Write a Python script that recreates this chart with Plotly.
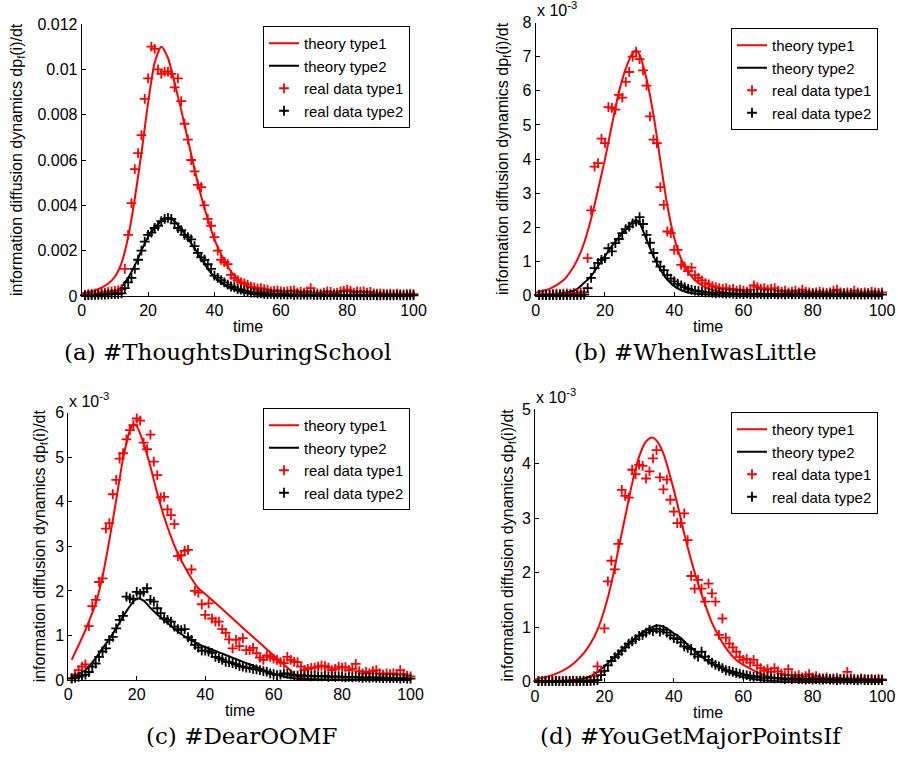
import plotly.graph_objects as go

SCALE = 1e-3
t_data = list(range(1, 101))

# ---------------- Panel (a) #ThoughtsDuringSchool (values in 1e-3) ----------------
a_real1 = [0.05, 0.08, 0.1, 0.1, 0.12, 0.15, 0.15, 0.18, 0.2, 0.22, 0.25, 0.3,
           1.2, 2.7, 4.1, 5.6, 6.3, 7.1, 8.7, 9.6, 11.0, 10.9, 10.0, 9.8, 9.9,
           9.9, 9.8, 9.2, 9.6, 8.6, 7.6, 6.9, 6.0, 5.5, 4.9, 4.8, 4.0, 3.4, 3.1,
           2.6, 2.0, 1.6, 1.5, 1.4, 0.93, 0.8, 0.7, 0.6, 0.56, 0.5, 0.4, 0.38,
           0.34, 0.35, 0.3, 0.28, 0.2, 0.22, 0.25, 0.2, 0.18, 0.2, 0.22, 0.25,
           0.15, 0.18, 0.15, 0.2, 0.35, 0.15, 0.12, 0.1, 0.15, 0.2, 0.18, 0.12,
           0.15, 0.2, 0.22, 0.28, 0.22, 0.15, 0.2, 0.18, 0.2, 0.15, 0.18, 0.12,
           0.1, 0.12, 0.1, 0.08, 0.1, 0.08, 0.1, 0.08, 0.07, 0.08, 0.1, 0.08]
a_real2 = [0.03, 0.04, 0.04, 0.05, 0.05, 0.06, 0.06, 0.07, 0.08, 0.08, 0.1, 0.12,
           0.35, 0.6, 0.8, 1.2, 1.6, 2.0, 2.4, 2.7, 2.8, 3.0, 3.1, 3.3, 3.4,
           3.45, 3.4, 3.2, 3.0, 2.9, 2.7, 2.6, 2.5, 2.2, 1.9, 1.7, 1.6, 1.4, 1.2,
           0.9, 0.8, 0.7, 0.6, 0.5, 0.42, 0.38, 0.3, 0.28, 0.22, 0.2, 0.15, 0.15,
           0.12, 0.12, 0.1, 0.08, 0.09, 0.07, 0.08, 0.06, 0.07, 0.06, 0.07, 0.05,
           0.06, 0.05, 0.06, 0.05, 0.06, 0.05, 0.04, 0.05, 0.04, 0.05, 0.04, 0.05,
           0.04, 0.04, 0.05, 0.04, 0.04, 0.03, 0.04, 0.04, 0.03, 0.04, 0.03, 0.04,
           0.03, 0.03, 0.04, 0.03, 0.03, 0.03, 0.04, 0.03, 0.03, 0.03, 0.03, 0.03]
a_theo_t1 = [0, 2, 4, 6, 8, 10, 12, 14, 16, 18, 20, 22, 24, 26, 28, 30, 32, 34, 36,
             38, 40, 42, 44, 46, 48, 52, 56, 60, 70, 80, 100]
a_theo1 = [0.12, 0.17, 0.25, 0.37, 0.55, 0.85, 1.45, 2.6, 4.3, 6.3, 8.5, 10.3,
           11.0, 10.5, 9.4, 8.2, 6.9, 5.6, 4.4, 3.4, 2.5, 1.85, 1.3, 0.9, 0.6, 0.3,
           0.15, 0.08, 0.02, 0.01, 0.0]
a_theo_t2 = [0, 6, 10, 12, 14, 16, 18, 20, 22, 24, 26, 28, 30, 32, 34, 36, 38, 40,
             42, 44, 46, 48, 52, 56, 60, 100]
a_theo2 = [0.02, 0.05, 0.15, 0.4, 0.8, 1.35, 2.0, 2.6, 3.0, 3.3, 3.45, 3.3, 2.95,
           2.55, 2.1, 1.65, 1.2, 0.85, 0.6, 0.4, 0.28, 0.18, 0.08, 0.04, 0.02, 0.0]

# ---------------- Panel (b) #WhenIwasLittle ----------------
b_real1 = [0.03, 0.04, 0.05, 0.04, 0.05, 0.06, 0.05, 0.06, 0.07, 0.06, 0.08, 0.07,
           0.1, 0.1, 1.1, 2.5, 3.78, 3.88, 4.6, 4.47, 5.52, 5.5, 5.45, 5.88, 5.8,
           6.26, 6.55, 7.0, 7.15, 6.93, 6.6, 6.15, 5.25, 4.57, 4.47, 3.18, 2.66,
           1.88, 1.83, 1.34, 1.34, 0.9, 0.85, 0.72, 0.82, 0.6, 0.52, 0.45, 0.37,
           0.33, 0.28, 0.25, 0.22, 0.2, 0.22, 0.18, 0.2, 0.15, 0.18, 0.15, 0.12,
           0.18, 0.3, 0.25, 0.2, 0.22, 0.18, 0.2, 0.22, 0.15, 0.12, 0.15, 0.1,
           0.12, 0.15, 0.1, 0.18, 0.12, 0.1, 0.08, 0.1, 0.12, 0.1, 0.08, 0.1, 0.15,
           0.18, 0.1, 0.08, 0.1, 0.08, 0.15, 0.1, 0.08, 0.1, 0.08, 0.12, 0.1, 0.08,
           0.1]
b_real2 = [0.02, 0.02, 0.02, 0.02, 0.02, 0.02, 0.02, 0.02, 0.02, 0.02, 0.02, 0.02,
           0.02, 0.03, 0.22, 0.52, 0.81, 0.96, 1.05, 1.1, 1.39, 1.3, 1.54, 1.66,
           1.83, 1.95, 2.02, 2.12, 2.17, 2.3, 2.1, 1.78, 1.55, 1.25, 1.0, 0.85,
           0.75, 0.6, 0.5, 0.42, 0.35, 0.3, 0.25, 0.2, 0.17, 0.15, 0.13, 0.12,
           0.1, 0.1, 0.08, 0.07, 0.08, 0.07, 0.06, 0.07, 0.06, 0.05, 0.06, 0.05,
           0.06, 0.05, 0.05, 0.06, 0.05, 0.05, 0.04, 0.05, 0.05, 0.04, 0.05, 0.04,
           0.05, 0.04, 0.04, 0.05, 0.04, 0.04, 0.04, 0.05, 0.04, 0.04, 0.04, 0.03,
           0.04, 0.04, 0.03, 0.04, 0.04, 0.03, 0.04, 0.03, 0.04, 0.03, 0.03, 0.04,
           0.03, 0.03, 0.03, 0.03]
b_theo_t1 = [0, 4, 8, 10, 12, 14, 16, 18, 20, 22, 24, 26, 28, 29, 30, 32, 34, 36,
             38, 40, 42, 44, 46, 48, 50, 55, 60, 70, 100]
b_theo1 = [0.09, 0.2, 0.45, 0.7, 1.05, 1.55, 2.25, 3.1, 4.0, 5.0, 5.95, 6.65, 7.1,
           7.18, 7.05, 6.35, 5.3, 3.95, 2.65, 1.7, 1.08, 0.7, 0.45, 0.3, 0.2, 0.09,
           0.04, 0.01, 0.0]
b_theo_t2 = [0, 5, 10, 12, 14, 16, 18, 20, 22, 24, 26, 28, 29, 30, 32, 34, 36, 38,
             40, 42, 45, 50, 60, 100]
b_theo2 = [0.02, 0.05, 0.12, 0.2, 0.38, 0.57, 0.87, 1.16, 1.45, 1.7, 1.95, 2.15,
           2.22, 2.12, 1.65, 1.16, 0.77, 0.47, 0.28, 0.16, 0.08, 0.03, 0.01, 0.0]

# ---------------- Panel (c) #DearOOMF ----------------
c_real1 = [0.04, 0.12, 0.22, 0.3, 0.35, 1.21, 1.66, 1.8, 2.2, 2.28, 3.4, 3.52,
           4.17, 4.49, 4.97, 5.09, 5.4, 5.61, 5.72, 5.87, 5.82, 5.33, 5.18, 5.51,
           4.9, 4.6, 4.1, 4.11, 3.83, 3.7, 3.5, 2.78, 2.8, 2.9, 2.92, 2.48, 2.0,
           1.96, 1.7, 1.46, 1.72, 1.38, 1.31, 1.31, 1.14, 1.06, 0.91, 0.71, 0.9,
           0.76, 0.94, 0.67, 0.67, 0.72, 0.6, 0.5, 0.45, 0.55, 0.52, 0.48, 0.45,
           0.4, 0.38, 0.52, 0.45, 0.41, 0.4, 0.3, 0.22, 0.25, 0.27, 0.28, 0.3,
           0.32, 0.31, 0.28, 0.22, 0.25, 0.3, 0.28, 0.29, 0.22, 0.25, 0.36, 0.2,
           0.15, 0.18, 0.15, 0.2, 0.22, 0.15, 0.12, 0.15, 0.13, 0.15, 0.12, 0.22,
           0.13, 0.1, 0.08]
c_real2 = [0.03, 0.05, 0.07, 0.1, 0.12, 0.18, 0.3, 0.37, 0.52, 0.64, 0.71, 0.9,
           0.97, 1.16, 1.35, 1.44, 1.87, 1.83, 1.81, 1.98, 1.94, 1.98, 2.06, 1.8,
           1.76, 1.61, 1.5, 1.38, 1.35, 1.31, 1.2, 1.14, 1.12, 1.14, 0.96, 0.9,
           0.79, 0.73, 0.66, 0.66, 0.64, 0.61, 0.52, 0.49, 0.45, 0.41, 0.4, 0.38,
           0.35, 0.31, 0.3, 0.28, 0.27, 0.25, 0.24, 0.22, 0.2, 0.19, 0.15, 0.13,
           0.11, 0.12, 0.15, 0.14, 0.12, 0.1, 0.1, 0.11, 0.09, 0.1, 0.08, 0.09,
           0.08, 0.08, 0.09, 0.07, 0.08, 0.07, 0.08, 0.07, 0.06, 0.07, 0.06, 0.07,
           0.06, 0.05, 0.06, 0.05, 0.06, 0.05, 0.05, 0.04, 0.05, 0.04, 0.04, 0.04,
           0.03, 0.04, 0.03, 0.03]
c_theo_t1 = [1, 3, 5, 8, 10, 12, 14, 16, 18, 19, 20, 22, 24, 26, 28, 30, 32, 34,
             36, 38, 40, 44, 48, 52, 56, 60, 64, 67, 70, 80, 100]
c_theo1 = [0.45, 0.78, 1.12, 1.72, 2.32, 3.14, 4.04, 4.97, 5.6, 5.74, 5.7, 5.31,
           4.79, 4.19, 3.66, 3.22, 2.84, 2.54, 2.28, 2.06, 1.93, 1.66, 1.38, 1.1,
           0.83, 0.55, 0.28, 0.08, 0.02, 0.005, 0.0]
c_theo_t2 = [1, 3, 5, 8, 10, 12, 14, 16, 18, 20, 22, 24, 26, 28, 30, 32, 34, 36,
             38, 40, 44, 48, 52, 56, 60, 64, 68, 80, 100]
c_theo2 = [0.07, 0.14, 0.22, 0.49, 0.71, 0.92, 1.16, 1.42, 1.66, 1.83, 1.78,
           1.62, 1.47, 1.34, 1.21, 1.09, 0.98, 0.89, 0.81, 0.74, 0.62, 0.5, 0.38,
           0.26, 0.14, 0.06, 0.02, 0.005, 0.0]

# ---------------- Panel (d) #YouGetMajorPointsIf ----------------
d_real1 = [0.01, 0.01, 0.02, 0.01, 0.01, 0.02, 0.01, 0.01, 0.02, 0.01, 0.02, 0.01,
           0.02, 0.02, 0.02, 0.03, 0.1, 0.28, 0.18, 0.98, 1.84, 2.22, 2.06, 2.53,
           3.52, 3.41, 3.38, 3.89, 3.81, 3.98, 3.96, 3.73, 3.86, 4.1, 4.25, 3.75,
           3.53, 3.71, 3.34, 3.12, 2.91, 2.91, 3.09, 2.6, 1.94, 1.71, 1.87, 1.71,
           1.47, 1.8, 1.62, 1.47, 0.86, 1.16, 0.81, 0.7, 0.63, 0.55, 0.45, 0.4,
           0.42, 0.35, 0.4, 0.3, 0.25, 0.2, 0.23, 0.18, 0.25, 0.19, 0.15, 0.12,
           0.23, 0.12, 0.1, 0.12, 0.08, 0.1, 0.14, 0.08, 0.1, 0.07, 0.06, 0.08,
           0.05, 0.06, 0.07, 0.05, 0.06, 0.18, 0.06, 0.05, 0.04, 0.06, 0.05, 0.04,
           0.05, 0.04, 0.05, 0.04]
d_real2 = [0.01, 0.01, 0.01, 0.01, 0.01, 0.01, 0.01, 0.01, 0.01, 0.01, 0.01, 0.01,
           0.01, 0.01, 0.01, 0.01, 0.02, 0.03, 0.12, 0.2, 0.3, 0.38, 0.45, 0.5,
           0.57, 0.63, 0.7, 0.74, 0.78, 0.84, 0.86, 0.9, 0.95, 0.93, 0.97, 0.92,
           0.95, 0.9, 0.85, 0.8, 0.78, 0.72, 0.65, 0.62, 0.6, 0.5, 0.46, 0.55,
           0.46, 0.4, 0.35, 0.31, 0.28, 0.25, 0.21, 0.2, 0.18, 0.16, 0.15, 0.13,
           0.12, 0.1, 0.09, 0.1, 0.08, 0.07, 0.08, 0.07, 0.06, 0.07, 0.06, 0.05,
           0.06, 0.05, 0.06, 0.05, 0.05, 0.04, 0.05, 0.04, 0.05, 0.04, 0.04, 0.05,
           0.04, 0.04, 0.03, 0.04, 0.04, 0.03, 0.04, 0.03, 0.03, 0.04, 0.03, 0.03,
           0.03, 0.03, 0.03, 0.03]
d_theo_t1 = [0, 5, 10, 14, 16, 18, 20, 22, 24, 26, 28, 30, 32, 33.5, 35, 37, 39,
             41, 43, 45, 47, 49, 51, 53, 55, 58, 62, 66, 70, 75, 80, 100]
d_theo1 = [0.04, 0.12, 0.28, 0.52, 0.7, 0.95, 1.32, 1.8, 2.42, 3.03, 3.64, 4.13,
           4.41, 4.48, 4.43, 4.19, 3.76, 3.27, 2.72, 2.23, 1.8, 1.42, 1.08, 0.83,
           0.62, 0.4, 0.24, 0.12, 0.06, 0.03, 0.01, 0.0]
d_theo_t2 = [0, 10, 14, 16, 18, 20, 22, 24, 26, 28, 30, 32, 34, 35.5, 37, 38, 40,
             42, 44, 46, 48, 50, 52, 55, 58, 61, 65, 70, 100]
d_theo2 = [0.005, 0.02, 0.06, 0.1, 0.18, 0.28, 0.4, 0.52, 0.64, 0.75, 0.86, 0.95,
           1.01, 1.03, 1.01, 0.98, 0.89, 0.8, 0.68, 0.57, 0.46, 0.37, 0.3, 0.2,
           0.12, 0.07, 0.03, 0.01, 0.0]

captions = ["(a) #ThoughtsDuringSchool", "(b) #WhenIwasLittle",
            "(c) #DearOOMF", "(d) #YouGetMajorPointsIf"]
legend_names = ["theory type1", "theory type2", "real data type1", "real data type2"]
x_ticks = [0, 20, 40, 60, 80, 100]
a_yticks = [0, 2, 4, 6, 8, 10, 12]
a_yticktext = ["0", "0.002", "0.004", "0.006", "0.008", "0.01", "0.012"]
b_yticks = [0, 1, 2, 3, 4, 5, 6, 7, 8]
c_yticks = [0, 1, 2, 3, 4, 5, 6]
d_yticks = [0, 1, 2, 3, 4, 5]

W, H = 898, 759
RED = "#ff0000"
BLACK = "#000000"
SANS = "Liberation Sans, Arial, sans-serif"
SERIF = "DejaVu Serif, serif"
FS = 16
LEG_FS = 15

# leg = (right edge px, top edge px)
panels = [
    dict(px=(81.7, 413.5), py=(24.0, 296.0), ymax=12, ticks=a_yticks, ticktext=a_yticktext,
         real1=a_real1, real2=a_real2, tt1=a_theo_t1, th1=a_theo1, tt2=a_theo_t2, th2=a_theo2,
         leg=(410.0, 26.0), ytitle_x=18, expo=False, cap=(227, 352), time=(248, 326)),
    dict(px=(535.7, 882.0), py=(22.5, 295.7), ymax=8, ticks=b_yticks, ticktext=[str(v) for v in b_yticks],
         real1=b_real1, real2=b_real2, tt1=b_theo_t1, th1=b_theo1, tt2=b_theo_t2, th2=b_theo2,
         leg=(878.0, 28.0), ytitle_x=503, expo=True, cap=(695, 352), time=(708, 326)),
    dict(px=(68.3, 410.5), py=(412.7, 680.0), ymax=6, ticks=c_yticks, ticktext=[str(v) for v in c_yticks],
         real1=c_real1, real2=c_real2, tt1=c_theo_t1, th1=c_theo1, tt2=c_theo_t2, th2=c_theo2,
         leg=(410.0, 408.0), ytitle_x=40, expo=True, cap=(241, 736), time=(240, 710)),
    dict(px=(535.0, 882.0), py=(409.3, 681.7), ymax=5, ticks=d_yticks, ticktext=[str(v) for v in d_yticks],
         real1=d_real1, real2=d_real2, tt1=d_theo_t1, th1=d_theo1, tt2=d_theo_t2, th2=d_theo2,
         leg=(878.0, 412.0), ytitle_x=508, expo=True, cap=(691, 736), time=(708, 712)),
]

fig = go.Figure()
annotations = []
layout_axes = {}

for i, p in enumerate(panels):
    k = "" if i == 0 else str(i + 1)
    xa, ya = "x" + k, "y" + k
    leg = "legend" + k
    sc = SCALE

    def scaled(vals):
        return [v * sc for v in vals]

    fig.add_trace(go.Scatter(x=p["tt1"], y=scaled(p["th1"]), mode="lines", name=legend_names[0],
                             line=dict(color=RED, width=2, shape="spline", smoothing=0.7),
                             xaxis=xa, yaxis=ya, legend=leg, cliponaxis=False))
    fig.add_trace(go.Scatter(x=p["tt2"], y=scaled(p["th2"]), mode="lines", name=legend_names[1],
                             line=dict(color=BLACK, width=2, shape="spline", smoothing=0.7),
                             xaxis=xa, yaxis=ya, legend=leg, cliponaxis=False))
    fig.add_trace(go.Scatter(x=t_data, y=scaled(p["real1"]), mode="markers", name=legend_names[2],
                             marker=dict(symbol="cross-thin", size=7, color=RED,
                                         line=dict(color=RED, width=1.8)),
                             xaxis=xa, yaxis=ya, legend=leg, cliponaxis=False))
    fig.add_trace(go.Scatter(x=t_data, y=scaled(p["real2"]), mode="markers", name=legend_names[3],
                             marker=dict(symbol="cross-thin", size=7, color=BLACK,
                                         line=dict(color=BLACK, width=1.8)),
                             xaxis=xa, yaxis=ya, legend=leg, cliponaxis=False))

    x0, x1 = p["px"]
    yt, yb = p["py"]
    axis_common = dict(showline=True, linecolor="black", linewidth=1, ticks="inside",
                       ticklen=4, tickcolor="black", showgrid=False, zeroline=False,
                       mirror=False, automargin=False,
                       tickfont=dict(family=SANS, size=FS, color="black"))
    layout_axes["xaxis" + k] = dict(axis_common, domain=[x0 / W, x1 / W], range=[0, 100],
                                    tickvals=x_ticks, anchor=ya)
    layout_axes["yaxis" + k] = dict(axis_common, domain=[1 - yb / H, 1 - yt / H],
                                    range=[0, p["ymax"] * sc],
                                    tickvals=[v * sc for v in p["ticks"]],
                                    ticktext=p["ticktext"], anchor=xa)
    layout_axes[leg] = dict(x=p["leg"][0] / W, y=1 - p["leg"][1] / H, xanchor="right",
                            yanchor="top", bgcolor="white", bordercolor="#000000",
                            borderwidth=1, font=dict(family=SANS, size=LEG_FS, color="black"),
                            tracegroupgap=0, itemwidth=30)

    ymid = 1 - (yt + yb) / 2 / H
    annotations.append(dict(text="information diffusion dynamics dp<sub>f</sub>(i)/dt",
                            xref="paper", yref="paper", x=p["ytitle_x"] / W, y=ymid,
                            textangle=-90, showarrow=False, xanchor="center", yanchor="middle",
                            font=dict(family=SANS, size=FS, color="black")))
    annotations.append(dict(text="time", xref="paper", yref="paper", x=p["time"][0] / W,
                            y=1 - p["time"][1] / H, showarrow=False, xanchor="center",
                            yanchor="middle", font=dict(family=SANS, size=FS, color="black")))
    annotations.append(dict(text=captions[i], xref="paper", yref="paper", x=p["cap"][0] / W,
                            y=1 - p["cap"][1] / H, showarrow=False, xanchor="center",
                            yanchor="middle", font=dict(family=SERIF, size=23, color="black")))
    if p["expo"]:
        annotations.append(dict(text="x 10<sup>-3</sup>", xref="paper", yref="paper",
                                x=(x0 - 1) / W, y=1 - (yt - 1) / H, showarrow=False,
                                xanchor="left", yanchor="bottom",
                                font=dict(family=SANS, size=FS, color="black")))

fig.update_layout(template="none", width=W, height=H,
                  margin=dict(l=0, r=0, t=0, b=0, pad=0, autoexpand=False),
                  paper_bgcolor="white", plot_bgcolor="white", showlegend=True,
                  font=dict(family=SANS, size=FS, color="black"),
                  annotations=annotations, **layout_axes)

fig.write_html("out.html", config={"displayModeBar": False},
               post_script="document.body.style.margin='0';document.body.style.overflow='hidden';")
